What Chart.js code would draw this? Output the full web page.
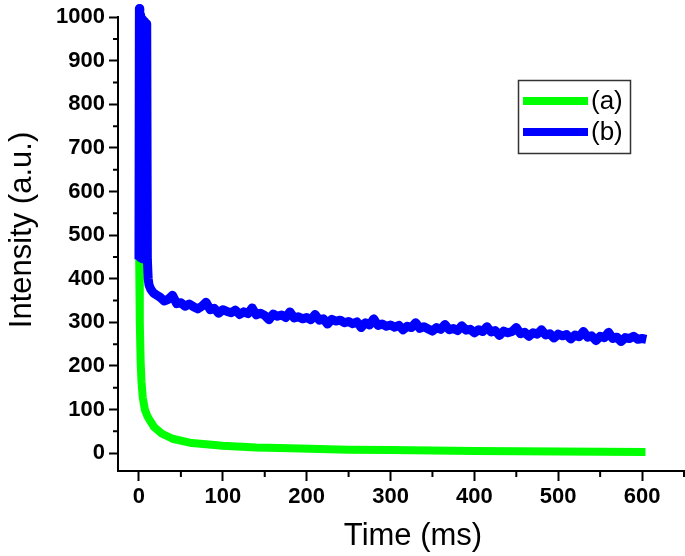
<!DOCTYPE html>
<html>
<head>
<meta charset="utf-8">
<script src="https://cdn.jsdelivr.net/npm/chart.js@4.4.0/dist/chart.umd.min.js"></script>
<style>
  html, body { margin: 0; padding: 0; background: #fff; }
  #wadah { width: 685px; height: 556px; }
</style>
</head>
<body>
<div id="wadah"><canvas id="grafik"></canvas></div>
<script>
const judulX = 'Time (ms)';
const judulY = 'Intensity (a.u.)';
const labelA = '(a)';
const labelB = '(b)';
const tickX = [0, 100, 200, 300, 400, 500, 600];
const tickY = [0, 100, 200, 300, 400, 500, 600, 700, 800, 900, 1000];

// kurva (a) - hijau
const waktuA = [0, 0.3, 1, 2, 3, 4.5, 7, 10, 13, 18, 27, 40, 63, 100, 140, 180, 250, 300, 400, 500, 604];
const nilaiA = [1000, 440, 300, 210, 165, 128, 100, 85, 75, 60, 45, 33, 23, 17, 13, 11, 8, 7, 5, 3.5, 2.5];

// kurva (b) - biru
const waktuB = [0, 0.5, 1, 1.5, 2, 2.5, 3, 3.5, 4, 4.5, 5, 5.5, 6, 6.5, 7, 7.5, 8, 8.5, 9, 9.5, 10,
  11, 12, 14, 17, 20,
  25, 30, 35, 40, 45, 50, 55, 60, 65, 70, 75, 80, 85, 90, 95, 100, 105, 110, 115, 120,
  125, 130, 135, 140, 145, 150, 155, 160, 165, 170, 175, 180, 185, 190, 195, 200,
  205, 210, 215, 220, 225, 230, 235, 240, 245, 250, 255, 260, 265, 270, 275, 280,
  285, 290, 295, 300, 305, 310, 315, 320, 325, 330, 335, 340, 345, 350, 355, 360,
  365, 370, 375, 380, 385, 390, 395, 400, 405, 410, 415, 420, 425, 430, 435, 440,
  445, 450, 455, 460, 465, 470, 475, 480, 485, 490, 495, 500, 505, 510, 515, 520,
  525, 530, 535, 540, 545, 550, 555, 560, 565, 570, 575, 580, 585, 590, 595, 600, 605];
const nilaiB = [445, 1020, 450, 1005, 448, 998, 452, 990, 446, 995, 450, 985, 447, 990, 452, 980, 448, 985, 450, 975, 445,
  400, 386, 376, 368, 364,
  358, 349, 353, 362, 343, 345, 337, 342, 336, 331, 337, 346, 329, 332, 321, 329, 325, 322, 328, 318,
  324, 320, 333, 317, 321, 316, 306, 319, 314, 317, 311, 324, 310, 313, 308, 311,
  306, 318, 305, 308, 296, 307, 303, 305, 299, 302, 297, 301, 288, 299, 294, 308,
  293, 296, 291, 294, 289, 293, 283, 291, 288, 299, 286, 290, 285, 280, 288, 284,
  295, 283, 286, 281, 292, 282, 284, 276, 283, 279, 290, 278, 281, 270, 280, 276,
  279, 288, 274, 277, 268, 276, 273, 283, 271, 274, 264, 273, 269, 272, 262, 271,
  267, 279, 266, 269, 258, 268, 265, 277, 263, 266, 256, 265, 263, 268, 261, 263, 261];

const titikA = waktuA.map((t, i) => ({ x: t, y: nilaiA[i] }));
const titikB = waktuB.map((t, i) => ({ x: t, y: nilaiB[i] }));

const fontTick = { family: "'Liberation Sans', Arial, sans-serif", size: 22, weight: 'bold' };

// tick minor, judul sumbu dan legenda ala Origin
const hiasan = {
  id: 'hiasan',
  afterDraw(chart) {
    const ctx = chart.ctx;
    const sx = chart.scales.x, sy = chart.scales.y;
    const area = chart.chartArea;
    ctx.save();
    ctx.strokeStyle = '#000';
    ctx.lineWidth = 2;
    ctx.beginPath();
    tickX.forEach(v => {
      const m = v + 50;
      if (m <= sx.max) {
        const px = sx.getPixelForValue(m);
        ctx.moveTo(px, area.bottom);
        ctx.lineTo(px, area.bottom + 6);
      }
    });
    tickY.forEach(v => {
      const m = v + 50;
      if (m < sy.max) {
        const py = sy.getPixelForValue(m);
        ctx.moveTo(area.left, py);
        ctx.lineTo(area.left - 5, py);
      }
    });
    ctx.stroke();

    ctx.fillStyle = '#000';
    ctx.font = "31px 'Liberation Sans', Arial, sans-serif";
    ctx.textAlign = 'center';
    ctx.textBaseline = 'alphabetic';
    ctx.fillText(judulX, 413, 545);
    ctx.save();
    ctx.translate(31, 230);
    ctx.rotate(-Math.PI / 2);
    ctx.fillText(judulY, 0, 0);
    ctx.restore();

    // legenda
    ctx.strokeStyle = '#333';
    ctx.lineWidth = 1.5;
    ctx.strokeRect(518.5, 80.5, 112, 73);
    const barisY = [101, 132];
    ctx.font = "26px 'Liberation Sans', Arial, sans-serif";
    ctx.textAlign = 'left';
    ctx.textBaseline = 'middle';
    chart.data.datasets.forEach((ds, i) => {
      ctx.strokeStyle = ds.borderColor;
      ctx.lineWidth = 8;
      ctx.beginPath();
      ctx.moveTo(523, barisY[i]);
      ctx.lineTo(588, barisY[i]);
      ctx.stroke();
      ctx.fillStyle = '#000';
      ctx.fillText(ds.label, 591, barisY[i] + 1);
    });
    ctx.restore();
  }
};

new Chart(document.getElementById('grafik'), {
  type: 'line',
  data: {
    datasets: [
      { label: labelA, data: titikA, borderColor: '#00ff00', borderWidth: 8, order: 1 },
      { label: labelB, data: titikB, borderColor: '#0000ff', borderWidth: 9, order: 0 }
    ]
  },
  options: {
    responsive: true,
    maintainAspectRatio: false,
    animation: false,
    parsing: false,
    layout: { padding: { top: 16, right: 1, left: 0, bottom: 0 } },
    elements: {
      point: { radius: 0 },
      line: { tension: 0, borderJoinStyle: 'round', borderCapStyle: 'butt' }
    },
    datasets: { line: { clip: false } },
    plugins: { legend: { display: false }, tooltip: { enabled: false } },
    scales: {
      x: {
        type: 'linear',
        min: -25,
        max: 650,
        afterBuildTicks: s => { s.ticks = tickX.map(v => ({ value: v })); },
        afterFit: s => { s.height = 85; },
        ticks: { font: fontTick, color: '#000', padding: 3, maxRotation: 0, autoSkip: false,
                 callback: v => String(v) },
        grid: { drawOnChartArea: false, drawTicks: true, tickLength: 10, tickWidth: 2, tickColor: '#000' },
        border: { display: true, color: '#000', width: 2 }
      },
      y: {
        type: 'linear',
        min: -41,
        max: 1000,
        afterBuildTicks: s => { s.ticks = tickY.map(v => ({ value: v })); },
        afterFit: s => { s.width = 118; },
        ticks: { font: fontTick, color: '#000', padding: 4, autoSkip: false,
                 callback: v => String(v) },
        grid: { drawOnChartArea: false, drawTicks: true, tickLength: 9, tickWidth: 2, tickColor: '#000' },
        border: { display: true, color: '#000', width: 2 }
      }
    }
  },
  plugins: [hiasan]
});
</script>
</body>
</html>
